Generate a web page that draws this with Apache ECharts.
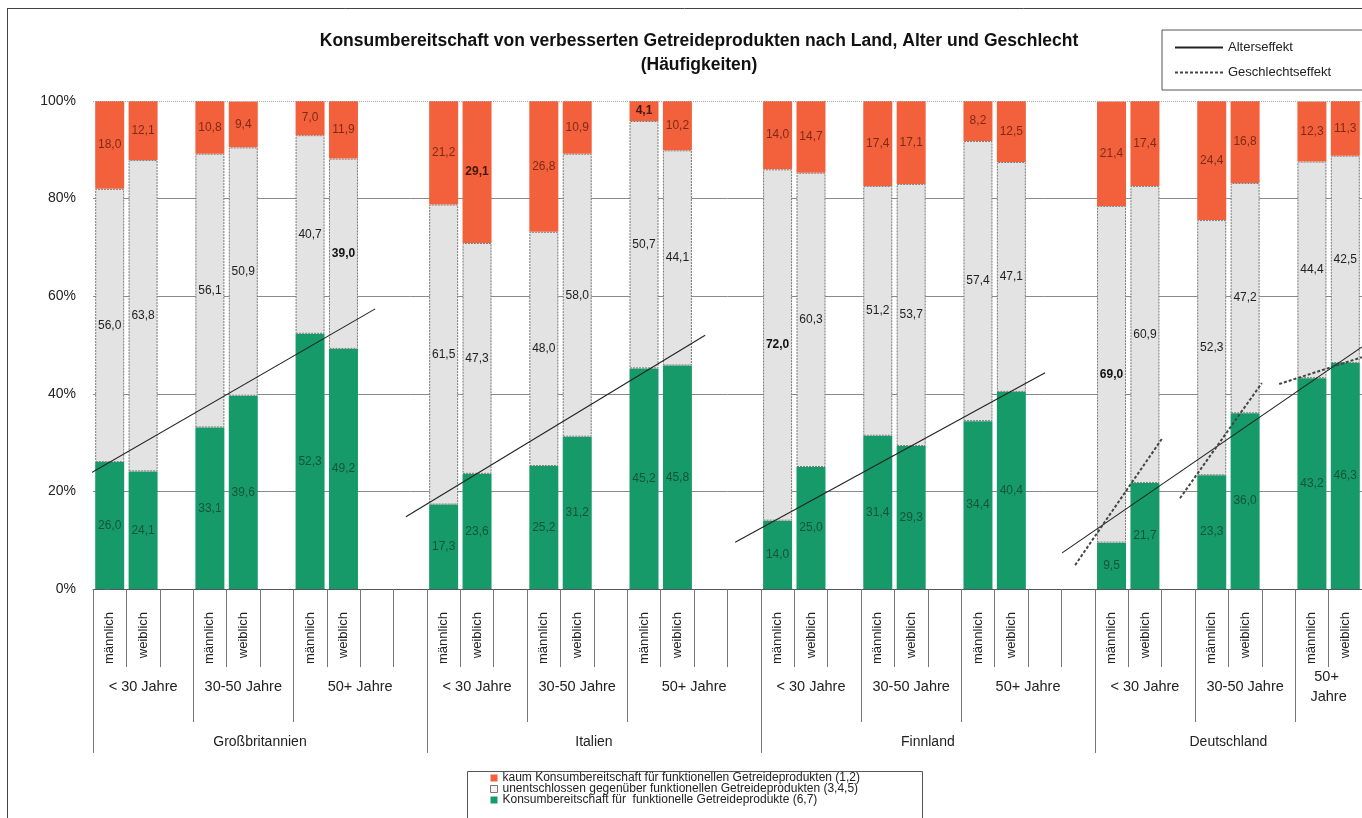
<!DOCTYPE html>
<html>
<head>
<meta charset="utf-8">
<script src="https://cdn.jsdelivr.net/npm/echarts@6/dist/echarts.min.js"></script>
<style>
  html, body { margin: 0; padding: 0; background: #fff; }
  #chart { width: 1362px; height: 818px; }
</style>
</head>
<body>
<div id="chart"></div>
<script>
// ---- data -------------------------------------------------------------
const countries = ['Großbritannien', 'Italien', 'Finnland', 'Deutschland'];
const ageGroups = ['< 30 Jahre', '30-50 Jahre', '50+ Jahre'];
const genders = ['männlich', 'weiblich'];

// shares in %, ordered country -> age group -> gender
const willing = [26.0, 24.1, 33.1, 39.6, 52.3, 49.2,
                 17.3, 23.6, 25.2, 31.2, 45.2, 45.8,
                 14.0, 25.0, 31.4, 29.3, 34.4, 40.4,
                  9.5, 21.7, 23.3, 36.0, 43.2, 46.3];
const undecided = [56.0, 63.8, 56.1, 50.9, 40.7, 39.0,
                   61.5, 47.3, 48.0, 58.0, 50.7, 44.1,
                   72.0, 60.3, 51.2, 53.7, 57.4, 47.1,
                   69.0, 60.9, 52.3, 47.2, 44.4, 42.5];
const unwilling = [18.0, 12.1, 10.8, 9.4, 7.0, 11.9,
                   21.2, 29.1, 26.8, 10.9, 4.1, 10.2,
                   14.0, 14.7, 17.4, 17.1, 8.2, 12.5,
                   21.4, 17.4, 24.4, 16.8, 12.3, 11.3];

// bars whose value labels are printed in bold
const boldUndecided = [5, 12, 18];
const boldUnwilling = [7, 10];

// effect lines: [slot position, %] end points
const ageEffect = [
  [[-0.71, 23.2], [7.95, 57.4]],
  [[8.87, 14.8], [17.83, 52.0]],
  [[18.73, 9.6], [28.01, 44.3]],
  [[28.52, 7.4], [37.5, 49.6]]
];
const genderEffect = [
  [[28.91, 4.9], [31.52, 30.9]],
  [[32.05, 18.6], [34.50, 42.2]],
  [[35.02, 42.0], [37.5, 47.5]]
];

const seriesNames = [
  'kaum Konsumbereitschaft für funktionellen Getreideprodukten (1,2)',
  'unentschlossen gegenüber funktionellen Getreideprodukten (3,4,5)',
  'Konsumbereitschaft für  funktionelle Getreideprodukte (6,7)'
];

// ---- slot layout: m, w, gap per age group; the oldest group has two gaps;
// the plot ends right after the last group's bars
const slots = [];
const ageRanges = [];
const countryRanges = [];
let barIdx = 0;
countries.forEach((c, ci) => {
  const cStart = slots.length;
  ageGroups.forEach((a, ai) => {
    const aStart = slots.length;
    genders.forEach(g => slots.push({ label: g, bar: barIdx++ }));
    const lastGroup = ci === countries.length - 1 && ai === ageGroups.length - 1;
    if (!lastGroup) {
      const gaps = ai === ageGroups.length - 1 ? 2 : 1;
      for (let i = 0; i < gaps; i++) slots.push({ label: '', bar: -1 });
    }
    ageRanges.push({ name: a, start: aStart, end: slots.length });
  });
  countryRanges.push({ name: c, start: cStart, end: slots.length });
});

const FONT = 'Liberation Sans, Arial, sans-serif';
const fmt = v => v.toFixed(1).replace('.', ',');

function barData(values, boldList, boldColor) {
  return slots.map(s => {
    if (s.bar < 0) return '-';
    const v = values[s.bar];
    if (boldList.indexOf(s.bar) >= 0) {
      return { value: v, label: { fontWeight: 'bold', color: boldColor } };
    }
    return v;
  });
}

const labelBase = {
  show: true,
  position: 'inside',
  fontFamily: FONT,
  fontSize: 12,
  formatter: p => (typeof p.value === 'number' ? fmt(p.value) : '')
};

const chart = echarts.init(document.getElementById('chart'), null, { renderer: 'canvas' });

// line series carry no symbols; a transparent item colour keeps the legend
// showing only the stroke
const lineSeries = [];
ageEffect.forEach(seg => lineSeries.push({
  name: 'Alterseffekt', type: 'line', xAxisIndex: 1, yAxisIndex: 0,
  data: seg, symbol: 'none', clip: false, silent: true, z: 5,
  itemStyle: { color: 'rgba(0,0,0,0)' },
  lineStyle: { color: '#222', width: 1.1 }
}));
genderEffect.forEach(seg => lineSeries.push({
  name: 'Geschlechtseffekt', type: 'line', xAxisIndex: 1, yAxisIndex: 0,
  data: seg, symbol: 'none', clip: false, silent: true, z: 5,
  itemStyle: { color: 'rgba(0,0,0,0)' },
  lineStyle: { color: '#444', width: 2, type: [3, 2] }
}));

const option = {
  animation: false,
  backgroundColor: '#fff',
  textStyle: { fontFamily: FONT },
  title: {
    text: 'Konsumbereitschaft von verbesserten Getreideprodukten nach Land, Alter und Geschlecht\n(Häufigkeiten)',
    left: 694, top: 24, textAlign: 'center',
    textStyle: { fontSize: 17.5, fontWeight: 'bold', color: '#111', lineHeight: 24, fontFamily: FONT }
  },
  legend: [
    {
      data: ['Alterseffekt', 'Geschlechtseffekt'],
      orient: 'vertical', left: 1162, top: 30,
      borderColor: '#555', borderWidth: 1,
      padding: [11, 60, 11, 12],
      itemWidth: 48, itemHeight: 12, itemGap: 12,
      textStyle: { fontSize: 13, color: '#222' },
      selectedMode: false
    },
    {
      data: [
        { name: seriesNames[0] },
        { name: seriesNames[1], itemStyle: { color: '#f4f4f4', borderColor: '#777', borderWidth: 1, borderType: 'solid' } },
        { name: seriesNames[2] }
      ],
      icon: 'rect',
      orient: 'vertical', left: 467, top: 772,
      padding: [0, 30, 2, 23],
      itemWidth: 7, itemHeight: 7, itemGap: -1,
      textStyle: { fontSize: 12, color: '#222', lineHeight: 11 },
      selectedMode: false
    }
  ],
  grid: { left: 93, right: 0, top: 101, bottom: 229, containLabel: false },
  xAxis: [
    {
      type: 'category',
      data: slots.map(s => s.label),
      boundaryGap: true,
      axisLine: { show: true, lineStyle: { color: '#555', width: 1 } },
      axisTick: { show: true, interval: 0, length: 78, lineStyle: { color: '#777', width: 1 } },
      axisLabel: { interval: 0, rotate: 90, margin: 23, fontSize: 13, color: '#222' }
    },
    { type: 'value', min: -0.5, max: slots.length - 0.5, show: false }
  ],
  yAxis: {
    type: 'value', min: 0, max: 100, interval: 20,
    axisLine: { show: false },
    axisTick: { show: true, length: 5, lineStyle: { color: '#666' } },
    axisLabel: { formatter: '{value}%', fontSize: 14, color: '#222', margin: 17 },
    splitLine: { show: true, showMaxLine: false, lineStyle: { color: '#8a8a8a', width: 1 } }
  },
  series: [
    {
      name: seriesNames[2], type: 'bar', stack: 'share', barWidth: 29,
      data: barData(willing, [], '#000'),
      itemStyle: { color: '#179a69' },
      label: Object.assign({}, labelBase, { color: 'rgba(15,40,28,0.62)' })
    },
    {
      name: seriesNames[1], type: 'bar', stack: 'share', barWidth: 29,
      data: barData(undecided, boldUndecided, '#111'),
      itemStyle: { color: '#e3e3e3', borderColor: '#777', borderWidth: 1, borderType: [2, 1] },
      label: Object.assign({}, labelBase, { color: '#222' })
    },
    {
      name: seriesNames[0], type: 'bar', stack: 'share', barWidth: 29,
      data: barData(unwilling, boldUnwilling, 'rgba(50,15,5,0.9)'),
      itemStyle: { color: '#f3603c' },
      label: Object.assign({}, labelBase, { color: 'rgba(80,20,5,0.72)' }),
      markLine: {
        silent: true, symbol: 'none', label: { show: false },
        lineStyle: { type: 'dotted', color: '#aaa', width: 1 },
        data: [{ yAxis: 100 }]
      }
    }
  ].concat(lineSeries)
};

chart.setOption(option);

// ---- grouped category labels below the axis ----------------------------
const px = v => chart.convertToPixel({ xAxisIndex: 1 }, v);
const axisY = chart.convertToPixel({ yAxisIndex: 0 }, 0);
const plotRight = 1362;
const graphics = [];

function groupRow(ranges, lineLen, textY, fontSize) {
  ranges.forEach(r => {
    const x0 = px(r.start - 0.5);
    const x1 = Math.min(px(r.end - 0.5), plotRight);
    graphics.push({
      type: 'line', silent: true,
      shape: { x1: Math.round(x0) + 0.5, y1: axisY, x2: Math.round(x0) + 0.5, y2: axisY + lineLen },
      style: { stroke: '#777', lineWidth: 1 }
    });
    graphics.push({
      type: 'text', silent: true,
      x: (x0 + x1) / 2, y: axisY + textY,
      style: {
        text: r.name, fill: '#222', fontSize: fontSize, fontFamily: FONT,
        align: 'center', verticalAlign: 'middle',
        width: x1 - x0 - 12, overflow: 'break', lineHeight: 20
      }
    });
  });
}
groupRow(ageRanges, 133, 98, 14.5);
groupRow(countryRanges, 164, 153, 14);

// frame round the series legend, running past the bottom edge
graphics.push({
  type: 'rect', silent: true, z: -1,
  shape: { x: 467.5, y: 771.5, width: 455, height: 80 },
  style: { fill: 'none', stroke: '#555', lineWidth: 1 }
});

// outer frame
graphics.push({ type: 'line', silent: true, shape: { x1: 7, y1: 8.5, x2: 1362, y2: 8.5 }, style: { stroke: '#444', lineWidth: 1 } });
graphics.push({ type: 'line', silent: true, shape: { x1: 7.5, y1: 8, x2: 7.5, y2: 818 }, style: { stroke: '#444', lineWidth: 1 } });

chart.setOption({ graphic: graphics });
</script>
</body>
</html>
